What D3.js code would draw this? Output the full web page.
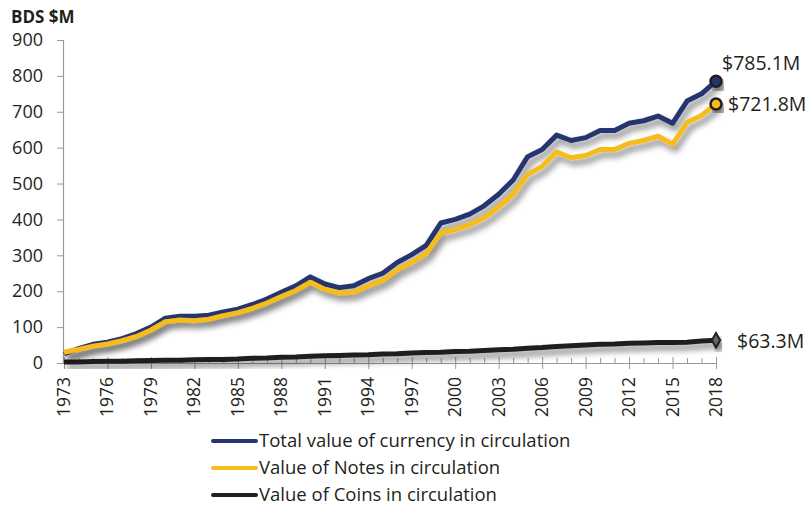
<!DOCTYPE html>
<html><head><meta charset="utf-8">
<script src="https://cdn.jsdelivr.net/npm/d3@7"></script>
<style>
body{margin:0;background:#fff;}
text{font-family:"Open Sans","Noto Sans",sans-serif;fill:#231F20;}
</style></head>
<body><svg id="c" width="807" height="508"></svg>
<script>
const years = d3.range(1973, 2019);
const totalValues = [25,40,52,58,68,82,100,125,130,130,133,142,150,163,178,197,215,240,220,210,215,235,250,280,302,328,390,400,415,438,470,510,575,595,635,620,628,648,648,668,675,688,668,730,750,785.1];
const notesValues = [30,38,47,53,62,74,92,115,120,118,122,132,140,152,167,185,202,225,205,195,197,215,230,260,280,305,362,372,385,405,435,470,525,548,588,572,578,595,595,612,620,632,610,670,690,721.8];
const coinsValues = [3,3,4,5,5,6,7,8,8,9,10,10,11,13,14,16,17,19,20,21,22,23,25,26,28,29,30,32,33,35,37,38,41,43,46,48,50,52,53,55,56,57,57,58,61,63.3];
const yTicks = [0,100,200,300,400,500,600,700,800,900];
const xLabelYears = [1973,1976,1979,1982,1985,1988,1991,1994,1997,2000,2003,2006,2009,2012,2015,2018];
const seriesNames = ["Total value of currency in circulation","Value of Notes in circulation","Value of Coins in circulation"];
const seriesColors = ["#253670","#F5BC1C","#231F20"];
const endLabels = ["$785.1M","$721.8M","$63.3M"];

const svg = d3.select("#c");
const x = d3.scaleLinear().domain([1973,2018]).range([64,716]);
const y = d3.scaleLinear().domain([0,900]).range([363,40]);

const defs = svg.append("defs");
const f = defs.append("filter").attr("id","sh").attr("x","-10%").attr("y","-10%").attr("width","130%").attr("height","140%");
f.append("feGaussianBlur").attr("in","SourceAlpha").attr("stdDeviation",3).attr("result","b");
f.append("feOffset").attr("in","b").attr("dx",3).attr("dy",5).attr("result","o");
f.append("feComponentTransfer").attr("in","o").attr("result","o2").append("feFuncA").attr("type","linear").attr("slope",0.5);
const m = f.append("feMerge");
m.append("feMergeNode").attr("in","o2");
m.append("feMergeNode").attr("in","SourceGraphic");

// y axis
const yAxis = svg.append("g").attr("transform","translate(63,0)")
  .call(d3.axisLeft(y).tickValues(yTicks).tickSize(6).tickPadding(14));
yAxis.select(".domain").attr("stroke","#999").attr("stroke-width",1.2);
yAxis.selectAll(".tick line").attr("stroke","#999");
yAxis.selectAll(".tick text").attr("font-size",18).attr("fill","#231F20").attr("font-family","'Open Sans',sans-serif");

svg.append("text").attr("x",11).attr("y",23).attr("font-size",17).attr("font-weight","bold").text("BDS $M");

// x axis
const xAxis = svg.append("g").attr("transform","translate(0,363)")
  .call(d3.axisBottom(x).tickValues(years).tickSizeInner(-5).tickSizeOuter(0).tickFormat(""));
xAxis.select(".domain").attr("stroke","#999").attr("stroke-width",1.2);
xAxis.selectAll(".tick line").attr("stroke","#999").attr("y2",d=>xLabelYears.includes(d)?6:-5).attr("y1",d=>xLabelYears.includes(d)?-6:0);
svg.append("g").selectAll("text").data(xLabelYears).join("text")
  .attr("transform",d=>`translate(${x(d)+6},377) rotate(-90)`)
  .attr("text-anchor","end").attr("font-size",17.5).text(d=>d);

const line = d3.line().x((d,i)=>x(years[i])).y(d=>y(d));
const data = [totalValues, notesValues, coinsValues];
[2,0,1].forEach(k=>{
  svg.append("path").datum(data[k]).attr("d",line).attr("fill","none")
    .attr("stroke",seriesColors[k]).attr("stroke-width",5).attr("stroke-linejoin","round")
    .attr("filter","url(#sh)");
});
// end markers
[0,1].forEach(k=>{
  svg.append("circle").attr("cx",x(2018)).attr("cy",y(data[k][45])).attr("r",5.5)
    .attr("fill",seriesColors[k]).attr("stroke","#231F20").attr("stroke-width",2.5).attr("filter","url(#sh)");
});
svg.append("path").attr("d",d3.symbol(d3.symbolDiamond,60)())
  .attr("transform",`translate(${x(2018)},${y(coinsValues[45])})`)
  .attr("fill","#666").attr("stroke","#231F20").attr("stroke-width",2).attr("filter","url(#sh)");

svg.append("text").attr("x",722).attr("y",70).attr("font-size",19.5).text(endLabels[0]);
svg.append("text").attr("x",728).attr("y",111).attr("font-size",19.5).text(endLabels[1]);
svg.append("text").attr("x",737).attr("y",348).attr("font-size",19.5).text(endLabels[2]);

// legend
const lg = svg.append("g");
seriesNames.forEach((n,i)=>{
  const yy = 441 + i*27;
  lg.append("line").attr("x1",213).attr("x2",256).attr("y1",yy).attr("y2",yy)
    .attr("stroke",seriesColors[i]).attr("stroke-width",4).attr("stroke-linecap","round");
  lg.append("text").attr("x",259).attr("y",yy+6).attr("font-size",18.5).text(n);
});
</script></body></html>
